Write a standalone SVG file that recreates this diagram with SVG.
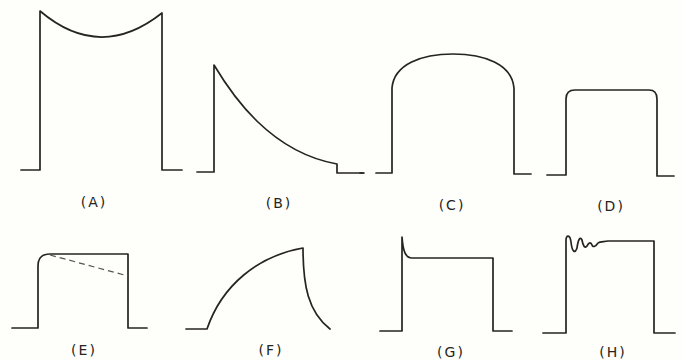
<svg xmlns="http://www.w3.org/2000/svg" width="681" height="360" viewBox="0 0 681 360">
<style>
.w{fill:none;stroke:#262421;stroke-width:1.7;stroke-linejoin:round;stroke-linecap:round}
.d{fill:none;stroke:#555;stroke-width:1.2;stroke-dasharray:6 4}
.l{font-family:"DejaVu Sans",sans-serif;font-size:14px;letter-spacing:2px;fill:#262421;text-anchor:middle}
</style>
<rect width="681" height="360" fill="#fefefa"/>
<g id="waveA">
<path class="w" d="M21,170 H40 V11 Q100,62 162,13 V170 H182"/>
<text class="l" x="94" y="207">(A)</text>
</g>
<g id="waveB">
<path class="w" d="M197,172 H214 V65 C232,95 270,152 337,164 V173 H363"/>
<text class="l" x="279" y="208">(B)</text>
</g>
<g id="waveC">
<path class="w" d="M360,173 H364 M376,173 H392 V88 C394,64 422,54 453,54 C484,54 512,64 514,88 V174 H531"/>
<text class="l" x="452" y="210">(C)</text>
</g>
<g id="waveD">
<path class="w" d="M547,175 H566 V99 Q566,90 575,90 H649 Q657,90 657,99 V176 H674"/>
<text class="l" x="611" y="211">(D)</text>
</g>
<g id="waveE">
<path class="w" d="M12,328 H38 V266 Q38,254 50,254 H128 V328 H147"/>
<path class="d" d="M50,255 L128,276"/>
<text class="l" x="84" y="355">(E)</text>
</g>
<g id="waveF">
<path class="w" d="M186,329 H207 C222,285 258,256 303,248 C303,285 308,312 330,329"/>
<text class="l" x="271" y="355">(F)</text>
</g>
<g id="waveG">
<path class="w" d="M380,331 H402 V237 C403,250 405,258 412,258 H493 V331 H512"/>
<text class="l" x="451" y="357">(G)</text>
</g>
<g id="waveH">
<path class="w" d="M543,333 H566 V240 C566,235 570,234 571,242 C572,252 575,254 577,248 C578,240 580,236 582,240 C583,246 585,249 587,246 C589,242 591,242 592,245 C593,248 596,246 598,243 C600,241 604,242 608,241 H654 V333 H675"/>
<text class="l" x="613" y="357">(H)</text>
</g>
</svg>
